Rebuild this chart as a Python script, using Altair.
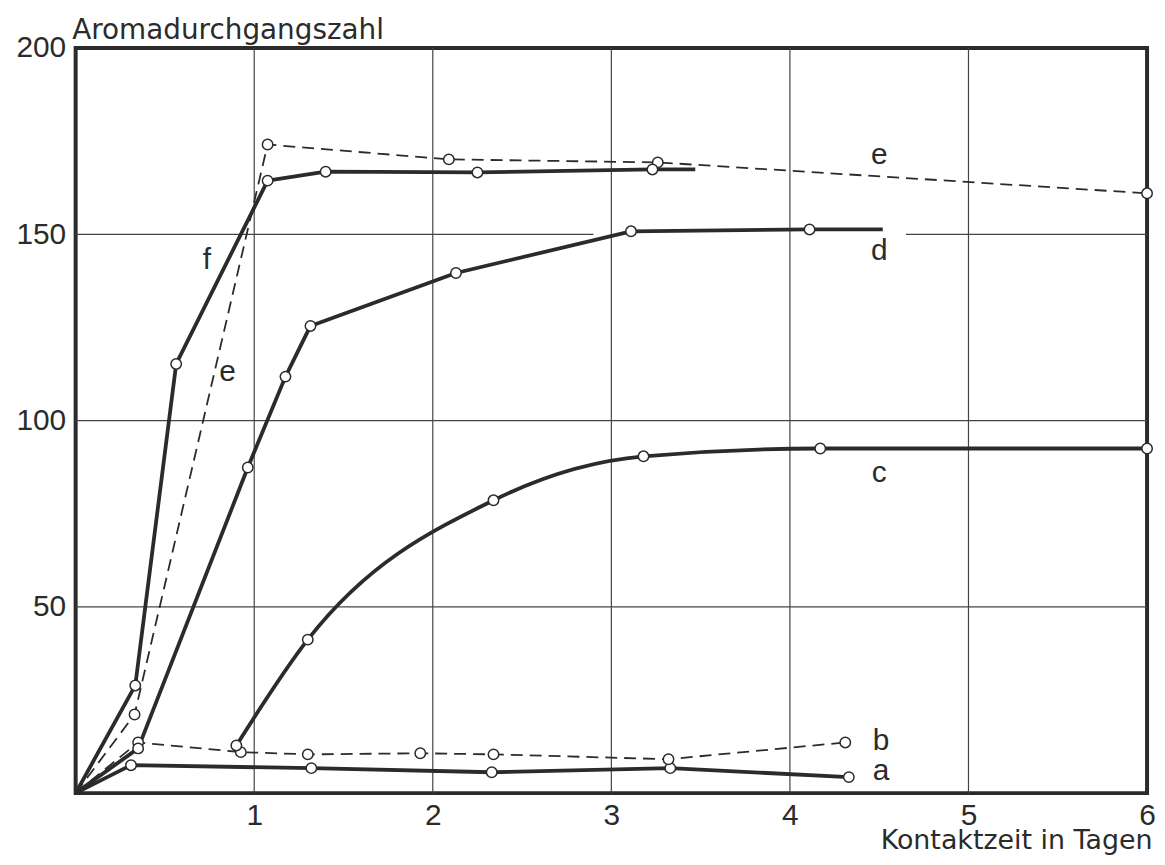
import altair as alt
import pandas as pd

INK = "#2b2b2b"

# ---- series data (x = Kontaktzeit in Tagen, y = Aromadurchgangszahl) ----
a_x = [0, 0.31, 1.32, 2.33, 3.33, 4.33]
a_y = [0, 7.5, 6.7, 5.6, 6.7, 4.3]
a_m = [0, 1, 1, 1, 1, 1]

b_x = [0, 0.35, 0.925, 1.30, 1.93, 2.34, 3.32, 4.31]
b_y = [0, 13.6, 11.0, 10.4, 10.7, 10.4, 9.1, 13.6]
b_m = [0, 1, 1, 1, 1, 1, 1, 1]

c_x = [0.90, 1.30, 2.34, 3.18, 4.17, 6.0]
c_y = [12.8, 41.2, 78.6, 90.4, 92.5, 92.5]
c_m = [1, 1, 1, 1, 1, 1]

d_x = [0, 0.35, 0.964, 1.175, 1.315, 2.13, 3.11, 4.11, 4.52]
d_y = [0, 12.0, 87.4, 111.8, 125.4, 139.6, 150.8, 151.3, 151.3]
d_m = [0, 1, 1, 1, 1, 1, 1, 1, 0]

e_x = [0, 0.33, 1.075, 2.09, 3.26, 6.0]
e_y = [0, 21.1, 174.1, 170.1, 169.3, 161.0]
e_m = [0, 1, 1, 1, 1, 1]

f_x = [0, 0.334, 0.563, 1.075, 1.40, 2.25, 3.23, 3.47]
f_y = [0, 28.9, 115.2, 164.4, 166.8, 166.6, 167.4, 167.4]
f_m = [0, 1, 1, 1, 1, 1, 1, 0]

# curve labels
label_text = ["a", "b", "c", "d", "e", "f", "e"]
label_x = [4.51, 4.51, 4.50, 4.50, 4.50, 0.735, 0.85]
label_y = [5.9, 14.0, 86.0, 145.5, 171.3, 143.0, 113.0]

# tick values
x_ticks = [1, 2, 3, 4, 5, 6]
y_ticks = [50, 100, 150, 200]

# grid segments
grid_x1 = [1, 2, 3, 4, 5, 0, 0, 0, 4.65]
grid_x2 = [1, 2, 3, 4, 5, 6, 6, 2.9, 6]
grid_y1 = [0, 0, 0, 0, 0, 50, 100, 150, 150]
grid_y2 = [200, 200, 200, 200, 200, 50, 100, 150, 150]

rows = []
for name, xs, ys, ms in [("a", a_x, a_y, a_m), ("b", b_x, b_y, b_m),
                         ("c", c_x, c_y, c_m), ("d", d_x, d_y, d_m),
                         ("e", e_x, e_y, e_m), ("f", f_x, f_y, f_m)]:
    for x, y, m in zip(xs, ys, ms):
        rows.append({"series": name, "x": x, "y": y, "marker": m})
df = pd.DataFrame(rows)

labels_df = pd.DataFrame({"text": label_text, "x": label_x, "y": label_y})
grid_df = pd.DataFrame({"x": grid_x1, "x2": grid_x2, "y": grid_y1, "y2": grid_y2})

xscale = alt.Scale(domain=[0, 6], nice=False, zero=True)
yscale = alt.Scale(domain=[0, 200], nice=False, zero=True)

xaxis = alt.Axis(values=x_ticks, grid=False, domain=False, ticks=False, tickSize=0,
                 labelFont="Liberation Sans", labelFontSize=30, labelColor=INK,
                 labelPadding=8, labelBaseline="top", labelFlush=False,
                 title="Kontaktzeit in Tagen", titleFont="DejaVu Sans", titleFontSize=27,
                 titleFontWeight="normal", titleColor=INK, titleAlign="right",
                 titleAnchor="end", titleX=1082, titleY=56, titleBaseline="alphabetic")
yaxis = alt.Axis(values=y_ticks, grid=False, domain=False, ticks=False, tickSize=0,
                 labelFont="Liberation Sans", labelFontSize=30, labelColor=INK,
                 labelPadding=10, labelBaseline="middle", labelFlush=False,
                 title="Aromadurchgangszahl", titleFont="DejaVu Sans", titleFontSize=28,
                 titleFontWeight="normal", titleColor=INK, titleAngle=0,
                 titleAlign="left", titleBaseline="alphabetic", titleX=-4, titleY=-10)

X = alt.X("x:Q", scale=xscale, axis=xaxis)
Y = alt.Y("y:Q", scale=yscale, axis=yaxis)

grid = alt.Chart(grid_df).mark_rule(color="#444444", strokeWidth=1.2).encode(
    x=X, x2="x2:Q", y=Y, y2="y2:Q")

base = alt.Chart(df)

solid = base.transform_filter(
    alt.FieldOneOfPredicate(field="series", oneOf=["a", "d", "f"])
).mark_line(color=INK, strokeWidth=3.8, strokeJoin="round").encode(
    x=X, y=Y, detail="series:N")

smooth = base.transform_filter(
    alt.FieldEqualPredicate(field="series", equal="c")
).mark_line(color=INK, strokeWidth=3.8, interpolate="monotone").encode(
    x=X, y=Y, detail="series:N")

dashed = base.transform_filter(
    alt.FieldOneOfPredicate(field="series", oneOf=["b", "e"])
).mark_line(color=INK, strokeWidth=1.8, strokeDash=[12, 7]).encode(
    x=X, y=Y, detail="series:N")

points = base.transform_filter(
    alt.FieldEqualPredicate(field="marker", equal=1)
).mark_circle(fill="white", stroke=INK, strokeWidth=1.5, size=110, opacity=1,
              fillOpacity=1).encode(x=X, y=Y)

texts = alt.Chart(labels_df).mark_text(
    font="Liberation Sans", fontSize=30, color=INK, align="center", baseline="middle"
).encode(x=X, y=Y, text="text:N")

chart = alt.layer(grid, dashed, solid, smooth, points, texts).properties(
    width=1077, height=749,
    autosize=alt.AutoSizeParams(type="none"),
    padding={"left": 68, "top": 38, "right": 10, "bottom": 62},
    background="white",
).configure_view(stroke=INK, strokeWidth=4)

chart.save("out.html", embed_options={"renderer": "svg", "actions": False})
